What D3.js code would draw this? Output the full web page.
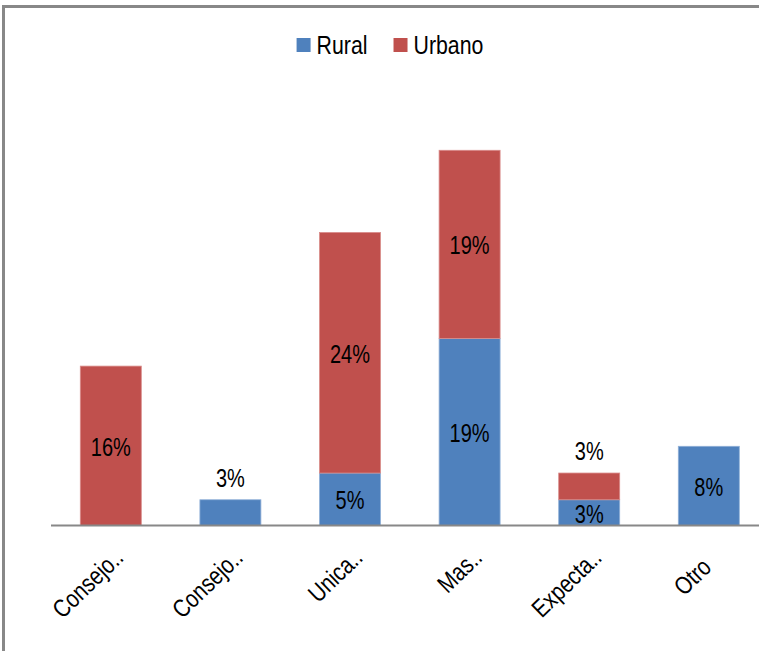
<!DOCTYPE html>
<html>
<head>
<meta charset="utf-8">
<script src="https://cdn.jsdelivr.net/npm/d3@7"></script>
<style>
html, body { margin: 0; padding: 0; background: #fff; }
svg { display: block; }
</style>
</head>
<body>
<svg id="chart" width="759" height="651"></svg>
<script>
const categories = ["Consejo..", "Consejo..", "Unica..", "Mas..", "Expecta..", "Otro"];
const seriesNames = ["Rural", "Urbano"];
const rural  = [0.0, 2.6, 5.3, 18.9, 2.6, 8.0];
const urbano = [16.1, 0.0, 24.3, 19.0, 2.7, 0.0];
const colors = ["#4F81BD", "#C0504D"];

const FONT = "'Liberation Sans', Arial, sans-serif";
const svg = d3.select("#chart");

// frame
svg.append("path")
  .attr("d", "M3.5,651 L3.5,6.5 L759,6.5")
  .attr("fill", "none").attr("stroke", "#888").attr("stroke-width", 3);

const baseY = 525.5;
const x = d3.scaleBand().domain(d3.range(categories.length)).range([51, 768.6]).paddingInner(0.49).paddingOuter(0.245);
const y = d3.scaleLinear().domain([0, 40]).range([baseY, baseY - 396]);

const rows = categories.map((c, i) => ({ i, Rural: rural[i], Urbano: urbano[i] }));
const stack = d3.stack().keys(seriesNames)(rows);

const g = svg.append("g");
stack.forEach((layer, si) => {
  g.selectAll(null).data(layer.filter(d => d[1] - d[0] > 0)).join("rect")
    .attr("x", d => x(d.data.i))
    .attr("width", x.bandwidth())
    .attr("y", d => y(d[1]))
    .attr("height", d => y(d[0]) - y(d[1]))
    .attr("fill", colors[si])
    .attr("stroke", si === 0 ? "#8fb0d8" : "#d98c8a")
    .attr("stroke-width", 0.8);
});

// data labels (condensed text)
stack.forEach((layer, si) => {
  layer.forEach(d => {
    const v = d[1] - d[0];
    if (v <= 0) return;
    const h = y(d[0]) - y(d[1]);
    const isTop = stack.slice(si + 1).every(l => (l[d.data.i][1] - l[d.data.i][0]) <= 0);
    let cy;
    if (isTop && h < 30) cy = y(d[1]) - 22;
    else cy = (y(d[0]) + y(d[1])) / 2 + 1;
    g.append("text")
      .attr("transform", `translate(${x(d.data.i) + x.bandwidth() / 2},${cy}) scale(0.8,1)`)
      .attr("dy", "0.36em")
      .attr("text-anchor", "middle")
      .attr("font-family", FONT)
      .attr("font-size", 25)
      .attr("fill", "#000")
      .text(Math.round(v) + "%");
  });
});

// baseline axis
const axis = svg.append("g").attr("transform", `translate(0,${baseY})`)
  .call(d3.axisBottom(x).tickSize(0).tickFormat(i => categories[i]));
axis.select(".domain").attr("stroke", "#888").attr("stroke-width", 2)
  .attr("d", "M51,0H759");
axis.selectAll(".tick text")
  .attr("font-family", FONT)
  .attr("font-size", 25)
  .attr("fill", "#000")
  .attr("text-anchor", "end")
  .attr("transform", "translate(4,43.5) rotate(-44) scale(0.82,1)")
  .attr("x", 0).attr("y", 0).attr("dy", 0)
  .attr("dx", i => categories[i].endsWith("..") ? 17 : 0);

// legend
const leg = svg.append("g");
let lx = 0;
seriesNames.forEach((s, i) => {
  const it = leg.append("g");
  it.append("rect").attr("x", lx).attr("y", 38).attr("width", 14).attr("height", 14).attr("fill", colors[i]);
  const t = it.append("text").attr("transform", `translate(${lx + 20},54) scale(0.82,1)`)
    .attr("font-family", FONT).attr("font-size", 26).attr("fill", "#000").text(s);
  lx += 20 + t.node().getComputedTextLength() * 0.82 + 26;
});
const total = lx - 26;
leg.attr("transform", `translate(${390 - total / 2},0)`);
</script>
</body>
</html>
